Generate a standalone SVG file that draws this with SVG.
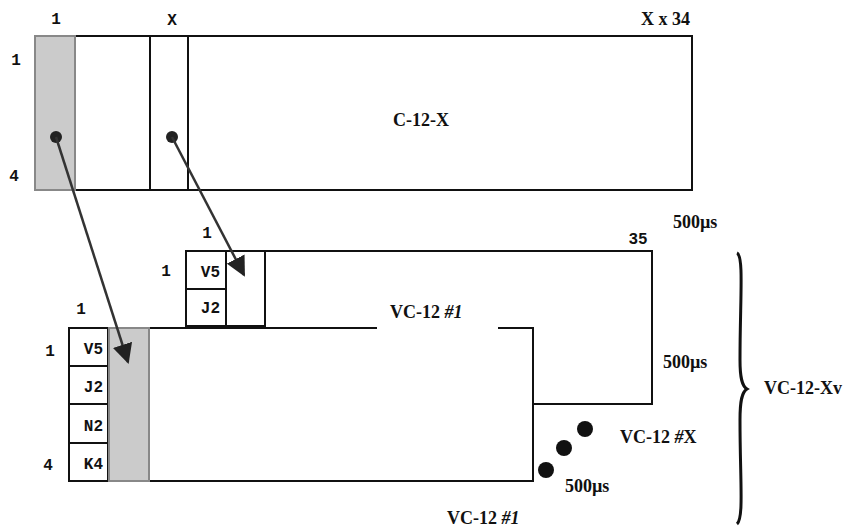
<svg xmlns="http://www.w3.org/2000/svg" width="856" height="531" viewBox="0 0 856 531">
<style>
.ln{fill:none;stroke:#111;stroke-width:2}
.box{fill:#fff;stroke:#111;stroke-width:2}
.sh{fill:#cbcbcb;stroke:#888;stroke-width:2}
.m{font-family:"Liberation Mono",monospace;font-size:16px;font-weight:bold;fill:#111}
.t{font-family:"Liberation Serif",serif;font-size:18px;font-weight:bold;fill:#111}
.it{font-style:italic}
.con{fill:none;stroke:#333;stroke-width:2.5}
</style>
<defs>
<marker id="ah" viewBox="0 0 10 10" refX="9" refY="5" markerWidth="8" markerHeight="8" markerUnits="strokeWidth" orient="auto">
<path d="M0,0 L10,5 L0,10 z" fill="#222"/>
</marker>
</defs>

<g id="c12x">
<rect class="box" x="35" y="36" width="657" height="154"/>
<rect class="sh" x="35" y="36" width="40" height="154"/>
<line class="ln" x1="150" y1="36" x2="150" y2="190"/>
<line class="ln" x1="188" y1="36" x2="188" y2="190"/>
<text class="m" x="56" y="24" text-anchor="middle">1</text>
<text class="m" x="172" y="25" text-anchor="middle">X</text>
<text class="t" x="641" y="25" font-size="19">X x 34</text>
<text class="m" x="16" y="65" text-anchor="middle">1</text>
<text class="m" x="14" y="181" text-anchor="middle">4</text>
<text class="t" x="393" y="126" font-size="19">C-12-X</text>
<text class="t" x="673" y="228">500µs</text>
</g>

<g id="vc12-back">
<path class="ln" d="M186,327 V251 H652 V404 H533"/>
<rect class="box" x="186" y="251" width="40" height="38"/>
<rect class="box" x="186" y="289" width="40" height="37"/>
<rect class="box" x="226" y="251" width="39" height="75"/>
<text class="m" x="220" y="277" text-anchor="end">V5</text>
<text class="m" x="220" y="313" text-anchor="end">J2</text>
<text class="m" x="207" y="238" text-anchor="middle">1</text>
<text class="m" x="166" y="276" text-anchor="middle">1</text>
<text class="m" x="638" y="244" text-anchor="middle">35</text>
<text class="t" x="663" y="368">500µs</text>
</g>

<g id="vc12-front">
<rect x="69" y="328" width="464" height="153" fill="#fff" stroke="none"/>
<path class="ln" d="M377,328 H69 V481 H533 V328 H498"/>
<rect class="box" x="69" y="328" width="39" height="38"/>
<rect class="box" x="69" y="366" width="39" height="38"/>
<rect class="box" x="69" y="404" width="39" height="39"/>
<rect class="box" x="69" y="443" width="39" height="38"/>
<rect class="sh" x="109" y="328" width="40" height="153"/>
<text class="m" x="103" y="354" text-anchor="end">V5</text>
<text class="m" x="103" y="392" text-anchor="end">J2</text>
<text class="m" x="103" y="431" text-anchor="end">N2</text>
<text class="m" x="103" y="469" text-anchor="end">K4</text>
<text class="m" x="81" y="314" text-anchor="middle">1</text>
<text class="m" x="50" y="356" text-anchor="middle">1</text>
<text class="m" x="48" y="470" text-anchor="middle">4</text>
<text class="t" x="390" y="318">VC-12 <tspan class="it">#1</tspan></text>
<text class="t" x="447" y="524">VC-12 <tspan class="it">#1</tspan></text>
</g>

<g id="vc12-x">
<circle cx="585" cy="429" r="8" fill="#111"/>
<circle cx="564" cy="448" r="8" fill="#111"/>
<circle cx="546" cy="470" r="8" fill="#111"/>
<text class="t" x="620" y="443">VC-12 <tspan class="it">#</tspan>X</text>
<text class="t" x="565" y="492">500µs</text>
</g>

<g id="vc12-xv">
<path d="M737,253 C744,256 740,300 740,360 C740,378 742,386 747,389 C742,392 740,400 740,420 C740,480 744,518 737,524" fill="none" stroke="#111" stroke-width="3"/>
<text class="t" x="764" y="394" font-size="19">VC-12-Xv</text>
</g>

<g id="connectors">
<circle cx="56" cy="137" r="6" fill="#222"/>
<circle cx="172" cy="137" r="6" fill="#222"/>
<line class="con" x1="56" y1="137" x2="128" y2="362" marker-end="url(#ah)"/>
<line class="con" x1="172" y1="137" x2="244" y2="275" marker-end="url(#ah)"/>
</g>
</svg>
